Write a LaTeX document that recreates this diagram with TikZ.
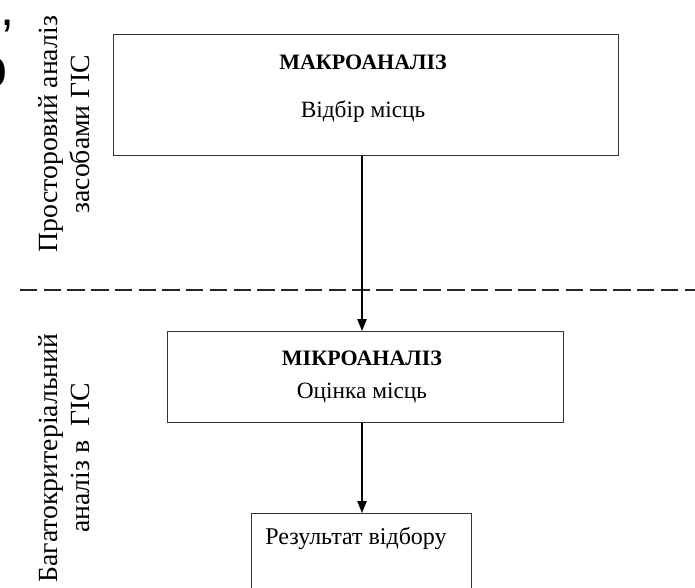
\documentclass[tikz,border=0pt]{standalone}
\usepackage{fontspec}
\setmainfont{Liberation Serif}
\newfontfamily\headsans{Liberation Sans}
\usetikzlibrary{arrows.meta,calc}

\begin{document}
\begin{tikzpicture}[x=0.75pt,y=-0.75pt,
  frame/.style={draw=black!80,line width=1.1pt,inner sep=0pt,anchor=north west},
  flow/.style={draw=black,line width=1.1pt,-{Triangle[length=9pt,width=7pt]}},
  divider/.style={draw=black!85,line width=2pt,dash pattern=on 13pt off 4.8pt},
  sidelabel/.style={rotate=90,align=center,font=\fontsize{20.8}{24}\selectfont,inner sep=0pt},
  title/.style={font=\fontsize{16.5}{19}\selectfont\bfseries,inner sep=0pt},
  body/.style={font=\fontsize{17.5}{20}\selectfont,inner sep=0pt}]

  % page area
  \useasboundingbox (0,0) rectangle (695,587);
  \clip (0,0) rectangle (695,587);
  \fill[white] (0,0) rectangle (695,587);

  % pieces of the slide heading at the top left
  \node[font=\headsans\fontsize{38}{46}\selectfont,inner sep=0pt,anchor=base] (comma) at (8,25) {,};
  \node[font=\headsans\fontsize{42}{50}\selectfont,inner sep=0pt,anchor=base east] (ochar) at (8,87) {о};

  % level divider
  \coordinate (divL) at (20,290);
  \coordinate (divR) at (700,290);
  \draw[divider] (divL) -- (divR);

  % side captions
  \node[sidelabel] (lblTop) at (64,134) {Просторовий аналіз\\засобами ГІС};
  \node[sidelabel] (lblBot) at (64,458) {Багатокритеріальний\\аналіз в\enspace ГІС};

  % boxes
  \node[frame,minimum width=505*0.75pt,minimum height=121*0.75pt] (macro) at (113,34) {};
  \node[title] (macroT) at (363,62) {МАКРОАНАЛІЗ};
  \node[body] (macroB) at (363,112) {Відбір місць};

  \node[frame,minimum width=396*0.75pt,minimum height=91*0.75pt] (micro) at (167,331) {};
  \node[title] (microT) at (362,358) {МІКРОАНАЛІЗ};
  \node[body] (microB) at (362,393) {Оцінка місць};

  \node[frame,minimum width=220*0.75pt,minimum height=110*0.75pt] (result) at (251,513) {};
  \node[body,font=\fontsize{18}{20}\selectfont] (resultT) at (356,538) {Результат відбору};

  % flow arrows
  \coordinate (axis) at (362,0);
  \draw[flow] (macro.south -| axis) -- (micro.north -| axis);
  \draw[flow] (micro.south -| axis) -- (result.north -| axis);
\end{tikzpicture}
\end{document}
